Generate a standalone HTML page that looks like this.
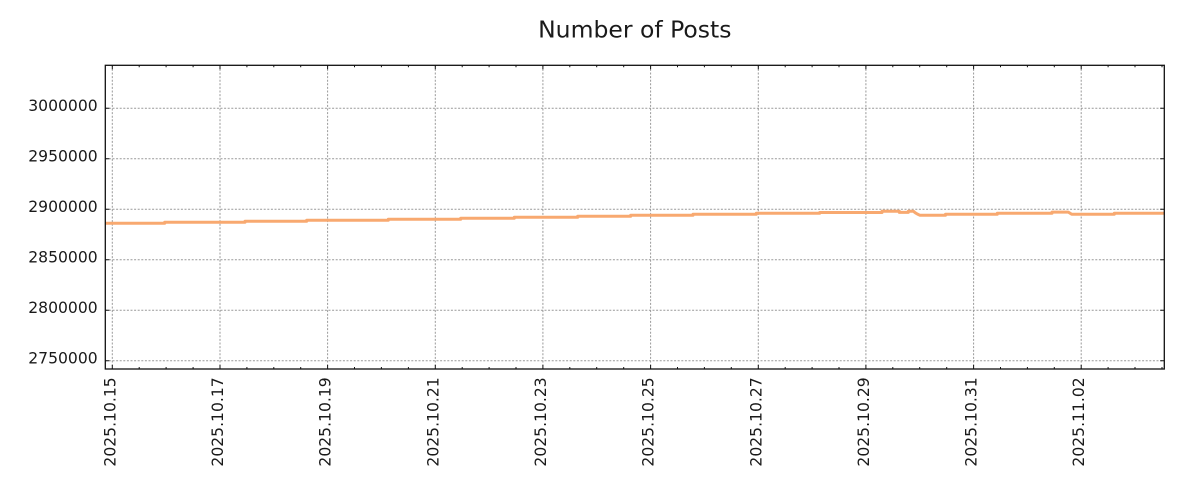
<!DOCTYPE html>
<html><head><meta charset="utf-8"><style>
html,body{margin:0;padding:0;background:#fff;}
svg{display:block;}
text{font-family:"DejaVu Sans","Liberation Sans",sans-serif;fill:#1a1a1a;}
</style></head><body>
<svg width="1200" height="500" viewBox="0 0 1200 500" xmlns="http://www.w3.org/2000/svg">
<rect x="0" y="0" width="1200" height="500" fill="#fff"/>
<text x="634.8" y="37.7" font-size="23.5" text-anchor="middle">Number of Posts</text>

<!-- grid -->
<g stroke="#999" stroke-width="1" stroke-dasharray="2,1.6" fill="none">
  <line x1="105.3" x2="1164.3" y1="108.3" y2="108.3"/>
  <line x1="105.3" x2="1164.3" y1="158.8" y2="158.8"/>
  <line x1="105.3" x2="1164.3" y1="209.3" y2="209.3"/>
  <line x1="105.3" x2="1164.3" y1="259.7" y2="259.7"/>
  <line x1="105.3" x2="1164.3" y1="310.2" y2="310.2"/>
  <line x1="105.3" x2="1164.3" y1="360.7" y2="360.7"/>
  <line y1="65.3" y2="369" x1="112.3" x2="112.3"/>
  <line y1="65.3" y2="369" x1="220.0" x2="220.0"/>
  <line y1="65.3" y2="369" x1="327.6" x2="327.6"/>
  <line y1="65.3" y2="369" x1="435.3" x2="435.3"/>
  <line y1="65.3" y2="369" x1="542.9" x2="542.9"/>
  <line y1="65.3" y2="369" x1="650.6" x2="650.6"/>
  <line y1="65.3" y2="369" x1="758.3" x2="758.3"/>
  <line y1="65.3" y2="369" x1="865.9" x2="865.9"/>
  <line y1="65.3" y2="369" x1="973.6" x2="973.6"/>
  <line y1="65.3" y2="369" x1="1081.2" x2="1081.2"/>
</g>

<!-- data line -->
<svg x="105.3" y="65.3" width="1059" height="303.7" viewBox="105.3 65.3 1059 303.7" overflow="hidden">
<polyline fill="none" stroke="#f8a970" stroke-width="3" stroke-linejoin="round"
 points="104,223.3 164.7,223.3 164.7,222.3 245,222.3 245,221.3 306.7,221.3 306.7,220.3 388.3,220.3 388.3,219.3 460.7,219.3 460.7,218.3 514.3,218.3 514.3,217.3 577.7,217.3 577.7,216.3 630.7,216.3 630.7,215.3 693,215.3 693,214.3 756.3,214.3 756.3,213.3 819.7,213.3 819.7,212.5 882,212.5 882,211.2 899.3,211.2 899.3,212.4 908.3,212.4 908.3,211.2 913.3,211.2 915.3,212.8 917.3,214 920,215.3 945.5,215.3 945.5,214.3 997.3,214.3 997.3,213.3 1052,213.3 1052,212.1 1068.3,212.1 1071.7,214.3 1114.3,214.3 1114.3,213.3 1166,213.3"/>
</svg>

<!-- ticks -->
<g stroke="#111" stroke-width="1" fill="none">
  <!-- y major left/right -->
  <path d="M105.3,108.3h4M105.3,158.8h4M105.3,209.3h4M105.3,259.7h4M105.3,310.2h4M105.3,360.7h4"/>
  <path d="M1164.3,108.3h-4M1164.3,158.8h-4M1164.3,209.3h-4M1164.3,259.7h-4M1164.3,310.2h-4M1164.3,360.7h-4"/>
  <!-- x major bottom/top -->
  <path d="M112.3,369v-4M220,369v-4M327.6,369v-4M435.3,369v-4M542.9,369v-4M650.6,369v-4M758.3,369v-4M865.9,369v-4M973.6,369v-4M1081.2,369v-4"/>
  <path d="M112.3,65.3v4M220,65.3v4M327.6,65.3v4M435.3,65.3v4M542.9,65.3v4M650.6,65.3v4M758.3,65.3v4M865.9,65.3v4M973.6,65.3v4M1081.2,65.3v4"/>
  <!-- x minor -->
  <path d="M139.2,369v-2M166.1,369v-2M193.1,369v-2M246.9,369v-2M273.8,369v-2M300.7,369v-2M354.5,369v-2M381.4,369v-2M408.4,369v-2M462.2,369v-2M489.1,369v-2M516,369v-2M569.8,369v-2M596.7,369v-2M623.7,369v-2M677.5,369v-2M704.4,369v-2M731.3,369v-2M785.2,369v-2M812.1,369v-2M839,369v-2M892.8,369v-2M919.7,369v-2M946.7,369v-2M1000.5,369v-2M1027.4,369v-2M1054.3,369v-2M1108.1,369v-2M1135,369v-2M1162,369v-2"/>
  <path d="M139.2,65.3v2M166.1,65.3v2M193.1,65.3v2M246.9,65.3v2M273.8,65.3v2M300.7,65.3v2M354.5,65.3v2M381.4,65.3v2M408.4,65.3v2M462.2,65.3v2M489.1,65.3v2M516,65.3v2M569.8,65.3v2M596.7,65.3v2M623.7,65.3v2M677.5,65.3v2M704.4,65.3v2M731.3,65.3v2M785.2,65.3v2M812.1,65.3v2M839,65.3v2M892.8,65.3v2M919.7,65.3v2M946.7,65.3v2M1000.5,65.3v2M1027.4,65.3v2M1054.3,65.3v2M1108.1,65.3v2M1135,65.3v2M1162,65.3v2"/>
</g>

<!-- spines -->
<rect x="105.3" y="65.3" width="1059" height="303.7" fill="none" stroke="#111" stroke-width="1.3"/>

<!-- y labels -->
<g font-size="15.6" text-anchor="end">
  <text x="97.7" y="111.2">3000000</text>
  <text x="97.7" y="161.7">2950000</text>
  <text x="97.7" y="212.2">2900000</text>
  <text x="97.7" y="262.6">2850000</text>
  <text x="97.7" y="313.1">2800000</text>
  <text x="97.7" y="363.6">2750000</text>
</g>

<!-- x labels -->
<g font-size="15.6" text-anchor="end">
  <text transform="translate(115.3,377.3) rotate(-90)">2025.10.15</text>
  <text transform="translate(223,377.3) rotate(-90)">2025.10.17</text>
  <text transform="translate(330.6,377.3) rotate(-90)">2025.10.19</text>
  <text transform="translate(438.3,377.3) rotate(-90)">2025.10.21</text>
  <text transform="translate(545.9,377.3) rotate(-90)">2025.10.23</text>
  <text transform="translate(653.6,377.3) rotate(-90)">2025.10.25</text>
  <text transform="translate(761.3,377.3) rotate(-90)">2025.10.27</text>
  <text transform="translate(868.9,377.3) rotate(-90)">2025.10.29</text>
  <text transform="translate(976.6,377.3) rotate(-90)">2025.10.31</text>
  <text transform="translate(1084.2,377.3) rotate(-90)">2025.11.02</text>
</g>
</svg>
</body></html>
